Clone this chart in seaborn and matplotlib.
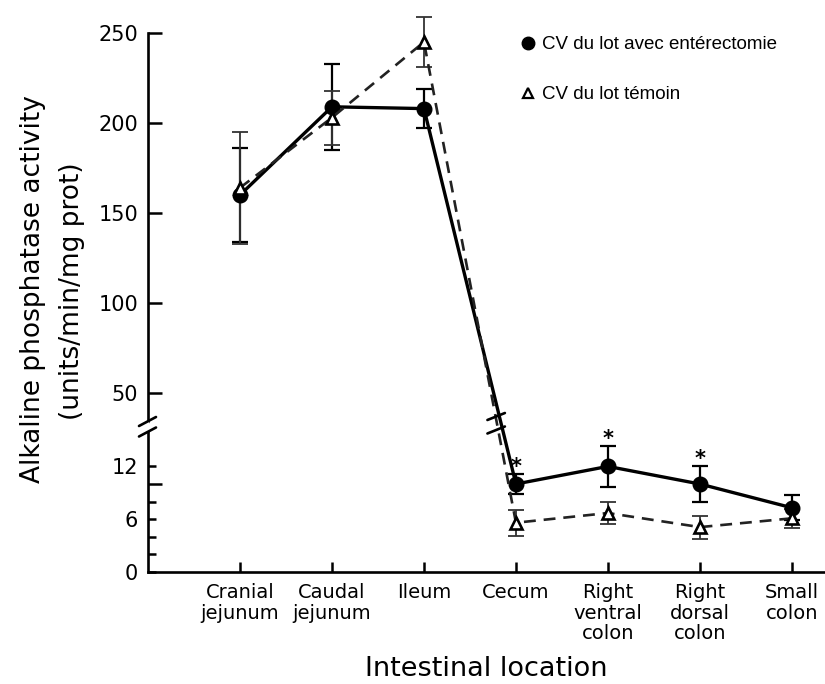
import numpy as np
import pandas as pd
import matplotlib
matplotlib.use("Agg")
import matplotlib.pyplot as plt
import matplotlib.transforms as mtransforms
from matplotlib.lines import Line2D
import seaborn as sns

# ---------------- data ----------------
locations = ["Cranial\njejunum", "Caudal\njejunum", "Ileum", "Cecum",
             "Right\nventral\ncolon", "Right\ndorsal\ncolon", "Small\ncolon"]
enter_mean = [160, 209, 208, 10.0, 12.0, 10.0, 7.3]
enter_err = [26, 24, 11, 1.1, 2.3, 2.0, 1.4]
temoin_mean = [164, 203, 245, 5.6, 6.7, 5.1, 6.1]
temoin_err = [31, 15, 14, 1.5, 1.3, 1.3, 1.1]
significant = [False, False, False, True, True, True, False]
label_enter = "CV du lot avec entérectomie"
label_temoin = "CV du lot témoin"
yticks_major = [0, 6, 12, 50, 100, 150, 200, 250]
yticks_minor = [2, 4, 8, 10]

pos = np.arange(len(locations))
df = pd.DataFrame({
    "pos": np.concatenate([pos, pos]),
    "value": enter_mean + temoin_mean,
    "err": enter_err + temoin_err,
    "group": [label_enter] * len(pos) + [label_temoin] * len(pos),
})

# ---------------- broken y scale ----------------
LO_TOP, LO_PX = 15.7, 8.8          # lower segment: px per unit
GAP_TOP = 35.0
HI_PX = 1.8                        # upper segment: px per unit


def _hi(v):
    return 179.0 + (v - 50.0) * HI_PX


def fwd(v):
    v = np.asarray(v, dtype=float)
    lo = v * LO_PX
    p0, p1 = LO_TOP * LO_PX, _hi(GAP_TOP)
    mid = p0 + (v - LO_TOP) * (p1 - p0) / (GAP_TOP - LO_TOP)
    return np.where(v <= LO_TOP, lo, np.where(v <= GAP_TOP, mid, _hi(v)))


def inv(u):
    u = np.asarray(u, dtype=float)
    p0, p1 = LO_TOP * LO_PX, _hi(GAP_TOP)
    lo = u / LO_PX
    mid = LO_TOP + (u - p0) * (GAP_TOP - LO_TOP) / (p1 - p0)
    hi = 50.0 + (u - 179.0) / HI_PX
    return np.where(u <= p0, lo, np.where(u <= p1, mid, hi))


# ---------------- figure ----------------
sns.set_style("ticks")
plt.rcParams["font.family"] = ["DejaVu Sans"]
for k in ("text.color", "axes.labelcolor", "xtick.color", "ytick.color",
          "axes.edgecolor"):
    plt.rcParams[k] = "black"

W, H = 825, 684
fig = plt.figure(figsize=(W / 100, H / 100), dpi=100)
fig.patch.set_facecolor("white")
AX_L, AX_B, AX_W, AX_H = 148, 112, 677, 539
ax = fig.add_axes([AX_L / W, AX_B / H, AX_W / W, AX_H / H])
ax.set_yscale("function", functions=(fwd, inv))

d1 = df[df.group == label_enter]
d2 = df[df.group == label_temoin]

# error bars
ax.errorbar(d1["pos"], d1["value"], yerr=d1["err"], fmt="none", ecolor="black",
            elinewidth=1.6, capsize=6, capthick=1.6, zorder=1.5, clip_on=False)
ax.errorbar(d2["pos"], d2["value"], yerr=d2["err"], fmt="none", ecolor="#333333",
            elinewidth=1.3, capsize=6, capthick=1.3, zorder=1.5, clip_on=False)

# lines with markers
sns.lineplot(data=d1, x="pos", y="value", ax=ax, color="black", linewidth=2.4,
             marker="o", markersize=10.5, markerfacecolor="black",
             markeredgecolor="black", markeredgewidth=1, clip_on=False, zorder=3)
sns.lineplot(data=d2, x="pos", y="value", ax=ax, color="#222222", linewidth=1.9,
             linestyle=(0, (4.5, 3)), marker="^", markersize=8.5,
             markerfacecolor="white", markeredgecolor="black",
             markeredgewidth=1.9, clip_on=False, zorder=3)

# significance asterisks
for x, m, e, s in zip(pos, enter_mean, enter_err, significant):
    if s:
        ax.annotate("*", xy=(x, m + e), xytext=(0, 5.5), textcoords="offset points",
                    ha="center", va="center", fontsize=15, fontweight="bold")

# axes styling
ax.set_xlim(-1, 6.36)
ax.set_ylim(0, 250)
ax.set_xticks(pos)
ax.set_xticklabels(locations, fontsize=14, linespacing=1.1)
ax.set_yticks(yticks_major)
ax.set_yticklabels([str(t) for t in yticks_major], fontsize=15)
ax.set_yticks(yticks_minor, minor=True)
ax.set_xlabel("")
ax.set_ylabel("")
ax.tick_params(axis="x", direction="in", length=7, width=1.8, pad=8, colors="black")
ax.tick_params(axis="y", which="major", direction="in", length=6, width=1.8, pad=7,
               colors="black")
ax.tick_params(axis="y", which="minor", direction="in", length=6, width=1.8,
               colors="black")
for t, v in zip(ax.yaxis.get_major_ticks(), yticks_major):
    if v >= 50:
        t.tick1line.set_markersize(10)
for t, v in zip(ax.yaxis.get_minor_ticks(), yticks_minor):
    if v == 10:
        t.tick1line.set_markersize(10)
sns.despine(ax=ax)
for sp in ("left", "bottom"):
    ax.spines[sp].set_linewidth(1.9)
    ax.spines[sp].set_color("black")
ax.grid(False)

# ---------------- break marks ----------------
def fx(px):
    return (px - AX_L) / AX_W


def fy(py):
    return (572 - py) / AX_H


# gap in y axis and two slashes
ax.plot([0, 0], [fy(424), fy(430)], transform=ax.transAxes, color="white",
        lw=3, clip_on=False, zorder=5)
for yc in (421.5, 432):
    ax.plot([fx(139), fx(156)], [fy(yc + 4.5), fy(yc - 4.5)], transform=ax.transAxes,
            color="black", lw=1.9, clip_on=False, zorder=6)

# slashes across the plotted lines (between Ileum and Cecum)
blend = mtransforms.blended_transform_factory(ax.transData, ax.transAxes)
for yc in (416.5, 430):
    ax.plot([2.69, 2.88], [fy(yc + 3.5), fy(yc - 3.5)], transform=blend,
            color="black", lw=1.9, clip_on=False, zorder=6)

# ---------------- axis titles ----------------
fig.text(33 / W, 1 - 289 / H, "Alkaline phosphatase activity", rotation=90,
         ha="center", va="center", fontsize=19)
fig.text(72 / W, 1 - 291 / H, "(units/min/mg prot)", rotation=90,
         ha="center", va="center", fontsize=19)
fig.text(486 / W, 1 - 669 / H, "Intestinal location", ha="center", va="center",
         fontsize=19.5)

# ---------------- legend ----------------
handles = [
    Line2D([], [], linestyle="none", marker="o", markersize=9,
           markerfacecolor="black", markeredgecolor="black"),
    Line2D([], [], linestyle="none", marker="^", markersize=7,
           markerfacecolor="white", markeredgecolor="black", markeredgewidth=1.6),
]
leg = ax.legend(handles, [label_enter, label_temoin], loc="upper left",
                bbox_to_anchor=(521 / W, 1 - 36 / H), bbox_transform=fig.transFigure,
                frameon=False, handlelength=0.7, handletextpad=0.4,
                labelspacing=1.75, borderpad=0, borderaxespad=0,
                prop={"family": "Liberation Sans", "size": 13.5})
for txt in leg.get_texts():
    txt.set_color("black")

fig.savefig("out.png", dpi=100, facecolor="white")
